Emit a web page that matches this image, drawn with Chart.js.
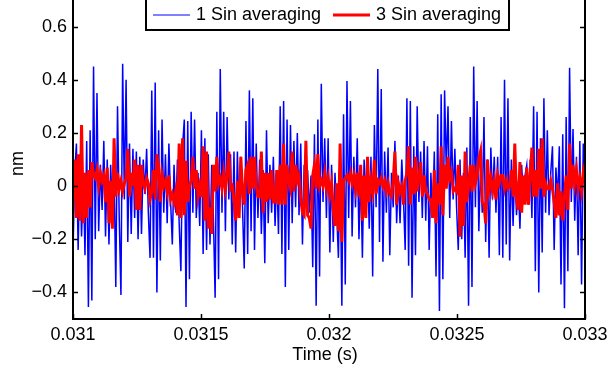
<!DOCTYPE html>
<html>
<head>
<meta charset="utf-8">
<script src="https://cdn.jsdelivr.net/npm/chart.js@4.4.0/dist/chart.umd.min.js"></script>
<style>
  html, body { margin: 0; padding: 0; background: #fff; }
  #wrap { width: 608px; height: 371px; }
</style>
</head>
<body>
<div id="wrap"><canvas id="myChart" width="608" height="371"></canvas></div>
<script>
// time window (s)
const tStart = 0.031;
const tEnd = 0.033;

// 1 Sin averaging (nm)
const blue1 = [
  -0.25,0.05,0.16,-0.24,0.10,-0.19,0.05,-0.26,0.17,-0.455,0.21,-0.43,0.45,-0.20,0.35,-0.17,0.08,-0.09,0.17,-0.19,0.10,-0.22,0.08,-0.10,0.05,-0.38,0.30,-0.12,-0.41,0.46,-0.05,0.40,-0.21,0.16,-0.18,0.14,-0.12,0.13,-0.20,0.11,-0.18,0.10,-0.03,0.14,-0.10,-0.27,0.36,-0.27,0.39,-0.40,
  0.21,-0.28,0.25,-0.10,0.12,-0.14,0.16,-0.06,-0.22,0.08,-0.10,0.10,-0.14,-0.32,0.15,0.25,-0.455,0.245,-0.35,0.28,-0.10,0.25,-0.12,0.05,-0.15,0.21,-0.255,0.18,-0.24,0.12,-0.22,0.08,-0.12,-0.42,0.28,-0.35,0.44,-0.10,0.28,-0.17,0.26,-0.05,0.12,-0.22,0.13,-0.25,0.13,-0.12,0.11,-0.08,
  -0.31,0.245,-0.255,0.36,-0.17,0.33,-0.24,0.16,-0.12,0.10,-0.18,0.06,-0.29,0.21,-0.14,0.08,-0.10,0.11,-0.15,0.05,-0.18,0.30,-0.255,0.32,-0.38,0.25,-0.24,0.23,-0.14,0.17,-0.08,0.20,-0.11,0.16,-0.22,0.08,-0.05,0.06,-0.10,0.04,-0.305,0.195,-0.45,0.25,-0.34,0.385,-0.06,0.18,-0.12,0.18,
  -0.25,0.08,-0.21,0.05,-0.10,-0.27,0.10,-0.45,0.27,-0.37,0.395,-0.12,0.32,-0.19,0.11,-0.08,0.18,-0.20,0.06,-0.27,0.10,-0.04,0.08,-0.16,0.11,-0.34,0.23,-0.08,0.44,-0.21,0.365,-0.285,0.13,-0.10,0.145,-0.26,0.05,-0.08,0.17,-0.14,0.04,-0.14,0.10,-0.05,-0.24,0.33,-0.30,0.32,-0.42,0.15,
  -0.26,0.30,-0.06,0.13,-0.12,0.17,-0.13,0.15,-0.24,0.05,-0.12,0.13,-0.34,0.27,-0.47,0.345,-0.35,0.36,0.06,0.30,-0.12,0.245,-0.05,0.14,-0.08,-0.24,0.10,-0.20,0.05,-0.27,0.145,-0.45,0.26,-0.38,0.45,-0.08,0.32,-0.17,0.08,-0.10,0.26,-0.21,0.10,-0.27,0.145,-0.05,0.11,-0.10,0.11,-0.26,
  0.26,-0.27,0.40,-0.22,0.33,-0.28,0.10,-0.15,0.07,-0.11,0.02,-0.16,0.08,-0.05,0.04,0.08,-0.07,0.10,-0.12,0.30,-0.32,0.28,-0.40,0.18,-0.25,0.33,-0.10,0.21,-0.11,0.05,0.15,-0.24,0.07,-0.05,0.15,-0.37,0.195,-0.46,0.26,-0.32,0.445,-0.06,0.215,-0.13,0.11,-0.26,0.17,-0.37,0.16,0.02
];

// 3 Sin averaging (nm)
const red3 = [
  -0.05,0.10,-0.12,0.12,-0.13,0.23,-0.14,0.05,-0.12,0.06,-0.08,0.09,0.04,0.03,0.06,0.00,0.05,0.02,0.04,-0.06,0.07,-0.14,0.02,-0.16,0.18,-0.04,0.05,-0.01,0.02,-0.02,0.01,0.03,0.14,-0.04,0.05,0.00,0.10,-0.09,0.08,-0.09,0.08,0.01,-0.01,0.03,0.01,-0.05,-0.02,0.06,-0.05,0.12,
  0.07,-0.06,0.04,0.00,0.02,-0.02,0.04,-0.05,-0.03,-0.06,-0.02,-0.11,0.16,-0.12,0.18,-0.11,0.095,-0.06,0.00,0.02,0.11,-0.01,0.06,-0.04,0.00,-0.04,0.15,-0.13,0.13,-0.16,-0.08,-0.18,0.08,-0.02,0.11,0.01,0.03,-0.01,0.05,-0.01,0.04,0.13,-0.01,0.00,-0.05,-0.13,0.02,-0.12,0.11,-0.02,
  -0.07,0.06,0.08,-0.03,0.11,-0.01,0.11,0.00,-0.04,-0.04,0.13,-0.10,0.05,-0.06,0.05,-0.05,0.06,-0.06,-0.06,0.06,-0.07,0.08,-0.07,0.16,-0.07,0.08,0.02,-0.01,0.13,-0.02,0.08,0.02,0.04,-0.05,-0.10,-0.11,0.17,-0.11,-0.12,-0.16,0.04,0.08,-0.01,0.12,0.00,0.02,0.00,0.05,-0.01,0.03,
  -0.03,0.01,-0.09,-0.15,0.01,-0.17,0.16,-0.21,0.02,0.03,0.04,0.02,0.05,0.01,0.04,-0.01,0.05,-0.04,0.08,-0.13,0.04,-0.12,0.11,-0.06,0.02,-0.02,0.10,-0.03,0.02,0.01,0.03,0.00,0.02,-0.02,0.01,-0.03,-0.04,0.02,0.13,-0.07,0.01,-0.02,0.00,-0.07,0.02,0.05,0.15,-0.07,0.07,-0.03,
  0.11,-0.02,0.03,0.09,-0.04,0.04,-0.02,-0.03,-0.05,-0.05,-0.12,0.06,-0.14,0.01,-0.07,0.15,-0.11,0.08,-0.01,0.11,0.03,0.05,-0.02,-0.01,-0.02,0.08,-0.19,0.04,-0.15,0.13,-0.06,0.00,0.08,-0.02,0.08,0.01,0.04,0.10,0.13,-0.06,-0.07,-0.14,0.10,-0.01,0.03,-0.02,0.02,-0.05,0.04,0.01,
  0.04,0.04,-0.01,0.02,-0.01,0.00,0.06,-0.04,0.16,-0.05,-0.09,0.09,-0.10,0.04,-0.07,0.07,-0.07,0.04,0.145,-0.04,0.06,-0.04,0.14,-0.01,0.18,-0.04,0.01,-0.01,-0.01,0.02,-0.01,-0.06,-0.12,0.01,-0.11,-0.02,-0.13,-0.04,0.04,-0.09,0.16,-0.01,0.08,0.01,0.06,-0.01,0.03,-0.02,0.05,0.01
];

// ticks
const xTicks = [0.031, 0.0315, 0.032, 0.0325, 0.033];
const xTickLabels = ["0.031", "0.0315", "0.032", "0.0325", "0.033"];
const yTicks = [-0.4, -0.2, 0, 0.2, 0.4, 0.6];
const yTickLabels = ["\u22120.4", "\u22120.2", "0", "0.2", "0.4", "0.6"];

const seriesNames = ["1 Sin averaging", "3 Sin averaging"];

// sample times, evenly spaced over the window
const time = blue1.map((_, i) => tStart + i * (tEnd - tStart) / (blue1.length - 1));

const FONT = '18px "Liberation Sans", Arial, sans-serif';

// axes box, inward ticks, labels and the boxed legend (matlab look)
const matlabFrame = {
  id: "matlabFrame",
  afterDraw(chart) {
    const ctx = chart.ctx;
    const a = chart.chartArea;
    const xs = chart.scales.x;
    const ys = chart.scales.y;
    ctx.save();

    // box
    ctx.strokeStyle = "#000";
    ctx.lineWidth = 2;
    ctx.beginPath();
    ctx.moveTo(a.left, a.top - 2);
    ctx.lineTo(a.left, a.bottom);
    ctx.lineTo(a.right, a.bottom);
    ctx.lineTo(a.right, a.top - 2);
    ctx.stroke();

    // ticks
    ctx.lineWidth = 1.5;
    ctx.beginPath();
    xTicks.forEach((v) => {
      const px = Math.round(xs.getPixelForValue(v)) + 0.5;
      ctx.moveTo(px, a.bottom);
      ctx.lineTo(px, a.bottom - 5);
    });
    yTicks.forEach((v) => {
      const py = Math.round(ys.getPixelForValue(v)) + 0.5;
      ctx.moveTo(a.left, py);
      ctx.lineTo(a.left + 5, py);
      ctx.moveTo(a.right, py);
      ctx.lineTo(a.right - 5, py);
    });
    ctx.stroke();

    // tick labels
    ctx.fillStyle = "#000";
    ctx.font = FONT;
    ctx.textAlign = "center";
    ctx.textBaseline = "middle";
    xTicks.forEach((v, i) => {
      ctx.fillText(xTickLabels[i], xs.getPixelForValue(v), a.bottom + 16);
    });
    ctx.textAlign = "right";
    yTicks.forEach((v, i) => {
      ctx.fillText(yTickLabels[i], a.left - 6, ys.getPixelForValue(v));
    });

    // axis titles
    ctx.textAlign = "center";
    ctx.fillText("Time (s)", (a.left + a.right) / 2 - 4, a.bottom + 36);
    ctx.save();
    ctx.translate(18, (a.top + a.bottom) / 2 + 4);
    ctx.rotate(-Math.PI / 2);
    ctx.fillText("nm", 0, 0);
    ctx.restore();

    // legend
    const lx = 146, ly = -4, lw = 363, lh = 34;
    ctx.fillStyle = "#fff";
    ctx.fillRect(lx, ly, lw, lh);
    ctx.lineWidth = 2;
    ctx.strokeStyle = "#000";
    ctx.strokeRect(lx, ly, lw, lh);
    const items = [
      { x: 153, color: "#0000ff", w: 1.2 },
      { x: 333, color: "#ff0000", w: 3 }
    ];
    ctx.textAlign = "left";
    items.forEach((it, i) => {
      ctx.strokeStyle = it.color;
      ctx.lineWidth = it.w;
      ctx.beginPath();
      ctx.moveTo(it.x, 15);
      ctx.lineTo(it.x + 37, 15);
      ctx.stroke();
      ctx.fillStyle = "#000";
      ctx.fillText(seriesNames[i], it.x + 43, 15);
    });

    ctx.restore();
  }
};

const ctx = document.getElementById("myChart").getContext("2d");

const myChart = new Chart(ctx, {
  type: "line",
  data: {
    datasets: [
      {
        label: seriesNames[0],
        data: time.map((t, i) => ({ x: t, y: blue1[i] })),
        borderColor: "#0000ff",
        borderWidth: 1.5,
        pointRadius: 0,
        tension: 0,
        order: 2,
      },
      {
        label: seriesNames[1],
        data: time.map((t, i) => ({ x: t, y: red3[i] })),
        borderColor: "#ff0000",
        borderWidth: 3,
        pointRadius: 0,
        tension: 0,
        order: 1,
      },
    ],
  },
  options: {
    responsive: false,
    animation: false,
    layout: { padding: { left: 73, right: 23, top: 0, bottom: 52 } },
    plugins: { legend: { display: false }, tooltip: { enabled: false } },
    scales: {
      x: { type: "linear", min: tStart, max: tEnd, display: false },
      y: { min: -0.5, max: 0.7, display: false },
    },
  },
  plugins: [matlabFrame],
});
</script>
</body>
</html>
